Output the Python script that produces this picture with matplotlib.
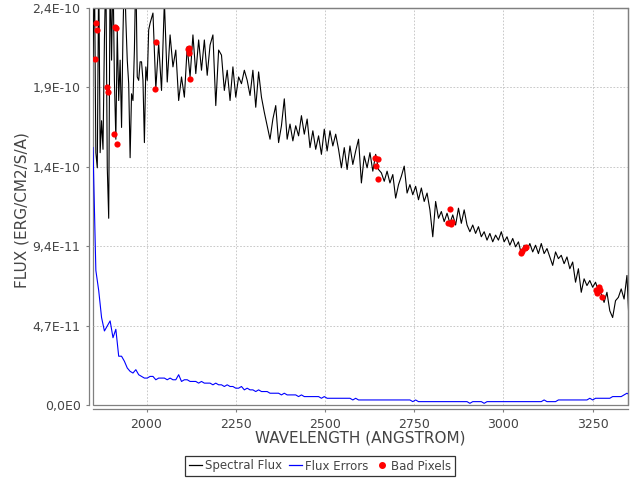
import numpy as np
import matplotlib
matplotlib.use("Agg")
import matplotlib.pyplot as plt
from matplotlib.lines import Line2D
from matplotlib.patches import Rectangle

# short-wave end: 4 A sampling (Angstrom), flux in 1e-10 erg/cm2/s/A
wl_short = np.arange(1850, 2010, 4)
flux_short = [
    2.05, 2.6, 1.50, 1.41, 2.6, 1.50, 1.69, 1.52, 2.17, 2.6,
    1.41, 1.11, 2.6, 2.05, 2.6, 1.93, 1.58, 2.23, 1.81, 2.05,
    1.65, 2.21, 2.6, 2.29, 2.05, 1.91, 1.47, 1.85, 1.81, 2.11,
    2.6, 1.95, 1.93, 2.04, 2.04, 1.93, 1.56, 2.01, 1.93, 2.23,
]

# rest of the spectrum: 8 A sampling
wl_long = np.arange(2010, 3355, 8)
flux_long = [
    2.27, 2.33, 1.88, 2.15, 1.87, 2.40, 1.92, 2.20, 2.01, 2.11,
    1.81, 1.95, 1.83, 2.13, 1.95, 2.20, 1.97, 2.17, 1.99, 2.17,
    1.96, 2.14, 2.20, 1.78, 2.11, 2.08, 1.87, 1.99, 1.81, 2.01,
    1.83, 1.95, 1.91, 1.99, 1.93, 1.84, 1.99, 1.77, 1.98, 1.83,
    1.74, 1.66, 1.58, 1.70, 1.78, 1.56, 1.66, 1.82, 1.58, 1.67,
    1.57, 1.66, 1.60, 1.72, 1.61, 1.70, 1.53, 1.63, 1.52, 1.60,
    1.49, 1.64, 1.51, 1.63, 1.54, 1.61, 1.52, 1.41, 1.53, 1.40,
    1.54, 1.43, 1.51, 1.58, 1.32, 1.48, 1.41, 1.50, 1.39, 1.49,
    1.40, 1.38, 1.33, 1.39, 1.32, 1.37, 1.23, 1.31, 1.36, 1.42,
    1.26, 1.31, 1.25, 1.30, 1.22, 1.29, 1.21, 1.26, 1.16, 1.00,
    1.21, 1.11, 1.15, 1.09, 1.14, 1.08, 1.13, 1.07, 1.17, 1.08,
    1.16, 1.07, 1.03, 1.07, 1.02, 1.06, 1.00, 1.03, 0.98, 1.02,
    0.97, 1.01, 0.98, 1.03, 0.97, 1.00, 0.95, 0.99, 0.94, 0.97,
    0.90, 0.95, 0.92, 0.96, 0.91, 0.95, 0.90, 0.96, 0.90, 0.93,
    0.88, 0.83, 0.91, 0.87, 0.89, 0.84, 0.88, 0.81, 0.85, 0.73,
    0.81, 0.67, 0.75, 0.71, 0.74, 0.70, 0.73, 0.68, 0.66, 0.61,
    0.67, 0.56, 0.52, 0.62, 0.64, 0.69, 0.63, 0.77, 0.40,
]

# flux errors on an 8 A grid, same units
err_wavelength = np.arange(1850, 3355, 8)
flux_err = [
    1.53, 0.80, 0.68, 0.52, 0.44, 0.47, 0.50, 0.40, 0.45, 0.29,
    0.29, 0.26, 0.22, 0.20, 0.19, 0.21, 0.18, 0.17, 0.16, 0.16,
    0.17, 0.17, 0.15, 0.16, 0.16, 0.16, 0.15, 0.16, 0.15, 0.15,
    0.18, 0.14, 0.15, 0.15, 0.14, 0.14, 0.14, 0.13, 0.14, 0.13,
    0.13, 0.13, 0.12, 0.13, 0.12, 0.12, 0.11, 0.12, 0.11, 0.11,
    0.10, 0.10, 0.11, 0.09, 0.10, 0.09, 0.09, 0.08, 0.09, 0.08,
    0.08, 0.08, 0.07, 0.07, 0.07, 0.07, 0.06, 0.07, 0.06, 0.06,
    0.06, 0.06, 0.05, 0.06, 0.05, 0.05, 0.05, 0.05, 0.05, 0.05,
    0.04, 0.05, 0.04, 0.04, 0.04, 0.04, 0.04, 0.04, 0.04, 0.04,
    0.04, 0.03, 0.04, 0.03, 0.03, 0.03, 0.03, 0.03, 0.03, 0.03,
    0.03, 0.03, 0.03, 0.03, 0.03, 0.03, 0.03, 0.03, 0.03, 0.03,
    0.03, 0.03, 0.02, 0.03, 0.02, 0.02, 0.02, 0.02, 0.02, 0.02,
    0.02, 0.02, 0.02, 0.02, 0.02, 0.02, 0.02, 0.02, 0.02, 0.02,
    0.02, 0.02, 0.01, 0.02, 0.02, 0.02, 0.02, 0.01, 0.02, 0.02,
    0.02, 0.02, 0.02, 0.02, 0.02, 0.02, 0.02, 0.02, 0.02, 0.02,
    0.02, 0.02, 0.02, 0.02, 0.02, 0.02, 0.02, 0.02, 0.03, 0.02,
    0.02, 0.02, 0.02, 0.03, 0.03, 0.03, 0.03, 0.03, 0.03, 0.03,
    0.03, 0.03, 0.03, 0.03, 0.04, 0.03, 0.04, 0.04, 0.04, 0.04,
    0.04, 0.04, 0.05, 0.05, 0.05, 0.05, 0.06, 0.07, 0.06,
]

# bad pixels
bad_wl = [1858.4, 1862.4, 1856.7, 1889.3, 1893.3, 1909.0, 1917.4, 1911.8, 1915.7,
          2027.0, 2024.2, 2115.2, 2118.0, 2119.7, 2122.5,
          2641.3, 2647.8, 2644.1, 2647.8, 2849.2, 2844.4, 2852.8, 2856.8,
          3048.6, 3053.4, 3059.8, 3064.6, 3261.2, 3266.8, 3270.5, 3275.3, 3259.3]
bad_flux = [2.268, 2.232, 2.054, 1.888, 1.858, 1.609, 1.549, 2.248, 2.244,
            2.155, 1.876, 2.117, 2.123, 2.093, 1.935,
            1.466, 1.460, 1.420, 1.341, 1.167, 1.084, 1.076, 1.090,
            0.906, 0.918, 0.932, 0.941, 0.665, 0.700, 0.684, 0.641, 0.684]

yticks = [0, 0.472, 0.944, 1.416, 1.888, 2.36]
ytick_labels = ["0,0E0", "4,7E-11", "9,4E-11", "1,4E-10", "1,9E-10", "2,4E-10"]
xticks = [2000, 2250, 2500, 2750, 3000, 3250]

scale = 1e-10
txt = "#444444"
axis_gray = "#808080"

wavelength = np.concatenate([wl_short, wl_long])
flux = np.array(flux_short + flux_long) * scale

fig = plt.figure(figsize=(6.4, 4.8), dpi=100)
ax = fig.add_axes([93 / 640, 1 - 405 / 480, 535 / 640, 397 / 480])

ax.plot(wavelength, flux, color="black", lw=0.8)
ax.plot(err_wavelength, np.array(flux_err) * scale, color="#0000ff", lw=0.8)
ax.scatter(np.array(bad_wl), np.array(bad_flux) * scale, s=20, color="#ff0000",
           zorder=3, linewidths=0)

ax.set_xlim(1850, 3349)
ax.set_ylim(0, 2.36e-10)
ax.set_xticks(xticks)
ax.set_yticks([v * scale for v in yticks])
ax.set_yticklabels(ytick_labels)
ax.grid(True, color="#c0c0c0", linestyle=(0, (2, 2)), linewidth=0.6)

# axis lines sit a few pixels off the plot area, plot area has its own outline
for side in ["left", "bottom"]:
    ax.spines[side].set_position(("outward", 3))
for side in ax.spines:
    ax.spines[side].set_color(axis_gray)
    ax.spines[side].set_linewidth(0.9)
ax.add_patch(Rectangle((0, 0), 1, 1, transform=ax.transAxes, fill=False,
                       edgecolor=axis_gray, lw=0.9, clip_on=False))
ax.tick_params(colors=axis_gray, labelcolor=txt, labelsize=9, length=2.5, width=0.8)

fig.text(360 / 640, 1 - 438 / 480, "WAVELENGTH (ANGSTROM)", ha="center", va="center",
         color=txt, fontsize=11)
fig.text(22 / 640, 1 - 210 / 480, "FLUX (ERG/CM2/S/A)", ha="center", va="center",
         rotation=90, color=txt, fontsize=11)

handles = [
    Line2D([], [], color="black", lw=0.9),
    Line2D([], [], color="#0000ff", lw=0.9),
    Line2D([], [], color="#ff0000", marker="o", ls="", markersize=4),
]
leg = fig.legend(handles, ["Spectral Flux", "Flux Errors", "Bad Pixels"],
                 loc="center", bbox_to_anchor=(0.5, 1 - 466 / 480), ncol=3,
                 fontsize=8.5, frameon=True, fancybox=False, handlelength=1.1,
                 handletextpad=0.25, columnspacing=0.6, borderpad=0.3,
                 borderaxespad=0, labelcolor=txt)
leg.get_frame().set_edgecolor("black")
leg.get_frame().set_linewidth(0.9)

fig.savefig("out.png", dpi=100)
